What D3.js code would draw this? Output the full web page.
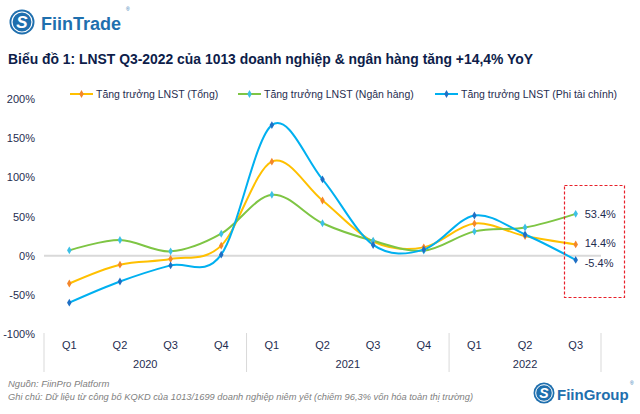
<!DOCTYPE html>
<html><head><meta charset="utf-8">
<script src="https://cdn.jsdelivr.net/npm/d3@7"></script>
<style>
html,body{margin:0;padding:0;background:#fff;}
svg{display:block;font-family:"Liberation Sans",Arial,sans-serif;}
</style></head>
<body>
<svg id="c" width="640" height="414"></svg>
<script>
const quarters = ["Q1","Q2","Q3","Q4","Q1","Q2","Q3","Q4","Q1","Q2","Q3"];
const years = ["2020","2020","2020","2020","2021","2021","2021","2021","2022","2022","2022"];
const categories = quarters.map((q,i)=>years[i]+"-"+q);
const totalGrowth = [-35.5,-11.5,-4.3,12.8,120,70.5,18,10.6,41,25,14.4];
const bankGrowth = [6.8,20,5.5,28,77.8,41.4,19,6.4,31,36,53.4];
const nonFinGrowth = [-60,-33,-12.4,1.3,166.7,97.4,13.7,7.7,51.3,27,-5.4];
const seriesNames = ["Tăng trưởng LNST (Tổng)","Tăng trưởng LNST (Ngân hàng)","Tăng trưởng LNST (Phi tài chính)"];
const yTicks = [-100,-50,0,50,100,150,200];

const series = [
  {name:seriesNames[0], values:totalGrowth, line:"#ffc000", marker:"#f4862a"},
  {name:seriesNames[1], values:bankGrowth, line:"#7ec544", marker:"#3cc0e6"},
  {name:seriesNames[2], values:nonFinGrowth, line:"#00b0f0", marker:"#1f6fc4"}
];

const svg = d3.select("#c");
const navy = "#1f2d50";

// Header logo
const logo = svg.append("g").attr("transform","translate(22,22)");
logo.append("circle").attr("r",12.5).attr("fill","#1f6fae");
logo.append("circle").attr("r",10).attr("fill","none").attr("stroke","#fff").attr("stroke-width",1.2);
logo.append("text").attr("y",6).attr("text-anchor","middle").attr("fill","#fff")
  .attr("font-size",17).attr("font-weight","bold").attr("font-style","italic").text("S");
svg.append("text").attr("x",41).attr("y",30).attr("fill","#1f6fae").attr("font-size",18)
  .attr("font-weight","bold").text("FiinTrade");
svg.append("text").attr("x",126).attr("y",11).attr("fill","#1f6fae").attr("font-size",5).text("®");

// Title
svg.append("text").attr("x",8).attr("y",64).attr("fill","#0d1d4a").attr("font-size",14)
  .attr("font-weight","bold").attr("textLength",525).attr("lengthAdjust","spacingAndGlyphs")
  .text("Biểu đồ 1: LNST Q3-2022 của 1013 doanh nghiệp & ngân hàng tăng +14,4% YoY");

// Scales
const x = d3.scaleBand().domain(categories).range([44,601]).padding(0);
const y = d3.scaleLinear().domain([-100,200]).range([334,99]);
const cx = c => x(c) + x.bandwidth()/2;

// Y axis
const yAxis = svg.append("g").attr("transform","translate(35,0)")
  .call(d3.axisLeft(y).tickValues(yTicks).tickSize(0).tickPadding(0).tickFormat(d=>d+"%"));
yAxis.select(".domain").remove();
yAxis.selectAll("text").attr("fill",navy).attr("font-size",11).attr("font-family","Liberation Sans, Arial, sans-serif");

// zero line
svg.append("line").attr("x1",44).attr("x2",601).attr("y1",y(0)).attr("y2",y(0))
  .attr("stroke","#d9d9d9").attr("stroke-width",2);

// X axis quarter labels
const xAxis = svg.append("g").attr("transform","translate(0,337)")
  .call(d3.axisBottom(x).tickSize(0).tickPadding(4).tickFormat((d,i)=>quarters[i]));
xAxis.select(".domain").remove();
xAxis.selectAll("text").attr("fill",navy).attr("font-size",11).attr("font-family","Liberation Sans, Arial, sans-serif");

// Year groups
const uniqueYears = Array.from(new Set(years));
const bounds = [];
uniqueYears.forEach(yr=>{
  const cats = categories.filter(c=>c.startsWith(yr));
  const x0 = x(cats[0]), x1 = x(cats[cats.length-1]) + x.bandwidth();
  bounds.push(x0, x1);
  svg.append("text").attr("x",(x0+x1)/2).attr("y",368).attr("text-anchor","middle")
    .attr("fill",navy).attr("font-size",11).text(yr);
});
Array.from(new Set(bounds)).forEach(b=>{
  svg.append("line").attr("x1",b).attr("x2",b).attr("y1",333).attr("y2",372)
    .attr("stroke","#d9d9d9").attr("stroke-width",1);
});

// Lines
const line = d3.line().x((d,i)=>cx(categories[i])).y(d=>y(d)).curve(d3.curveCatmullRom.alpha(0));
const diamond = d3.symbol().type(d3.symbolDiamond).size(18);
series.forEach(s=>{
  svg.append("path").attr("d",line(s.values)).attr("fill","none").attr("stroke",s.line).attr("stroke-width",2);
});
series.forEach(s=>{
  svg.append("g").selectAll("path").data(s.values).join("path")
    .attr("transform",(d,i)=>`translate(${cx(categories[i])},${y(d)})`)
    .attr("d",diamond).attr("fill",s.marker);
});

// Data labels for last point
const lastIdx = categories.length-1;
const labelOffsets = [ -1, 0, 3 ];
series.forEach((s,k)=>{
  const v = s.values[lastIdx];
  svg.append("text").attr("x",cx(categories[lastIdx])+9).attr("y",y(v)+4+labelOffsets[k])
    .attr("fill",navy).attr("font-size",11).text(v.toFixed(1)+"%");
});

// Red dashed box
svg.append("rect").attr("x",564.5).attr("y",185.5).attr("width",60).attr("height",112)
  .attr("fill","none").attr("stroke","#e8202a").attr("stroke-width",1.2).attr("stroke-dasharray","3,2");

// Legend
const legendX = [70,238,435];
series.forEach((s,k)=>{
  const g = svg.append("g").attr("transform",`translate(${legendX[k]},94)`);
  g.append("line").attr("x1",0).attr("x2",23).attr("stroke",s.line).attr("stroke-width",2);
  g.append("path").attr("transform","translate(11.5,0)").attr("d",diamond).attr("fill",s.marker);
  g.append("text").attr("x",26).attr("y",4).attr("fill",navy).attr("font-size",10.5).text(s.name);
});

// Footer
svg.append("text").attr("x",8).attr("y",387).attr("fill","#7f7f7f").attr("font-size",9.5)
  .attr("font-style","italic").text("Nguồn: FiinPro Platform");
svg.append("text").attr("x",8).attr("y",400).attr("fill","#7f7f7f").attr("font-size",9.5)
  .attr("font-style","italic").attr("textLength",465).attr("lengthAdjust","spacingAndGlyphs")
  .text("Ghi chú: Dữ liệu từ công bố KQKD của 1013/1699 doanh nghiệp niêm yết (chiếm 96,3% vốn hóa toàn thị trường)");

// FiinGroup logo
const logo2 = svg.append("g").attr("transform","translate(544,393)");
logo2.append("circle").attr("r",10.5).attr("fill","#1f6fae");
logo2.append("circle").attr("r",8.3).attr("fill","none").attr("stroke","#fff").attr("stroke-width",1);
logo2.append("text").attr("y",5).attr("text-anchor","middle").attr("fill","#fff")
  .attr("font-size",14).attr("font-weight","bold").attr("font-style","italic").text("S");
svg.append("text").attr("x",557).attr("y",400).attr("fill","#1f6fae").attr("font-size",15)
  .attr("font-weight","bold").text("FiinGroup");
svg.append("text").attr("x",630).attr("y",385).attr("fill","#1f6fae").attr("font-size",5).text("®");
</script>
</body></html>
